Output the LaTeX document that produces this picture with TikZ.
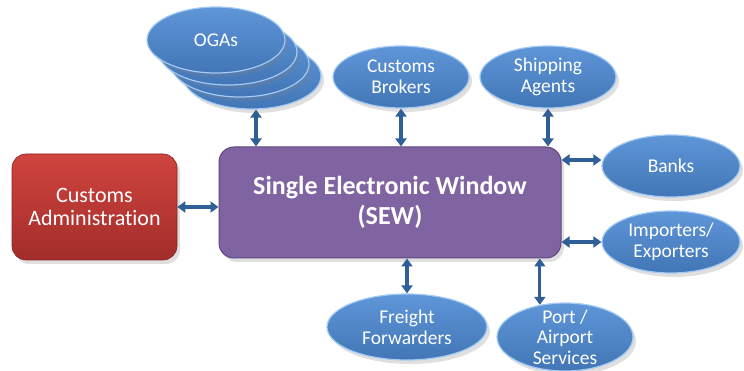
\documentclass[tikz,border=0pt]{standalone}
\usepackage{fontspec}
\setmainfont{Carlito}[Ligatures=NoCommon]
\usetikzlibrary{shapes.geometric,arrows.meta,shadows}
\definecolor{ellTop}{HTML}{5F96D8}
\definecolor{ellBot}{HTML}{4276B6}
\definecolor{ellRim}{HTML}{A3CAF4}
\definecolor{redTop}{HTML}{D0443F}
\definecolor{redBot}{HTML}{A22D2A}
\definecolor{purp}{HTML}{8063A1}
\definecolor{purpEdge}{HTML}{5E4880}
\definecolor{arr}{HTML}{2F5F96}
\tikzset{
  oval/.style={ellipse, minimum width=136pt, minimum height=62pt, inner sep=0pt,
    top color=ellTop, bottom color=ellBot, draw=ellRim, line width=1.2pt,
    text=white, font=\fontsize{19.5}{21}\selectfont, align=center,
    drop shadow={shadow xshift=3pt, shadow yshift=-4pt, opacity=0.25}},
  ovaltext/.style={text=white, font=\fontsize{19.5}{20.5}\selectfont, align=center, inner sep=0pt},
  conn/.style={{Triangle[width=11pt,length=8pt]}-{Triangle[width=11pt,length=8pt]}, line width=3.2pt, draw=arr},
  box/.style={rounded corners=15pt, inner sep=0pt, text=white, align=center,
    drop shadow={shadow xshift=3pt, shadow yshift=-4pt, opacity=0.25}}
}
\begin{document}
\begin{tikzpicture}[x=1pt,y=-1pt]
\useasboundingbox (0,0) rectangle (744,371);
% OGAs stack
\node[oval, minimum width=138pt, minimum height=66pt] (oga3) at (252,76) {};
\node[oval, minimum width=138pt, minimum height=66pt] (oga2) at (240,64) {};
\node[oval, minimum width=138pt, minimum height=66pt] (oga1) at (228,52) {};
\node[oval, minimum width=138pt, minimum height=66pt] (ogas) at (216,40) {OGAs};
% other ovals
\node[oval] (brok) at (401,77) {Customs\\Brokers};
\node[oval] (ship) at (548,77) {Shipping\\Agents};
\node[oval, minimum width=138pt] (banks) at (671,166) {Banks};
\node[oval, minimum width=138pt] (imp) at (671,242) {Importers/\\Exporters};
\node[oval, minimum width=160pt, minimum height=66pt] (frei) at (407,327) {Freight\\Forwarders};
\node[oval, minimum width=136pt, minimum height=68pt,
  label={[ovaltext]center:{Port /\\Airport\\Services}}] (port) at (565,337) {};
% boxes
\node[box, minimum width=342pt, minimum height=111pt, fill=purp, draw=purpEdge, line width=1pt,
  font=\fontsize{26}{30}\selectfont\bfseries] (sew) at (390,202.5) {Single Electronic Window\\(SEW)};
\node[box, rounded corners=14pt, minimum width=165pt, minimum height=106pt, top color=redTop, bottom color=redBot,
  draw=redBot!80!black, line width=0.6pt, font=\fontsize{22}{23}\selectfont] (cust) at (94.5,207) {Customs\\Administration};
% connectors
\draw[conn] (cust.east) -- (cust.east -| sew.west);
\draw[conn] (oga3.south -| 256,0) -- (sew.north -| 256,0);
\draw[conn] (brok.south) -- (brok.south |- sew.north);
\draw[conn] (ship.south) -- (ship.south |- sew.north);
\draw[conn] (banks.west |- 0,160) -- (sew.east |- 0,160);
\draw[conn] (imp.west) -- (imp.west -| sew.east);
\draw[conn] (frei.north) -- (frei.north |- sew.south);
\draw[conn] (port.128) -- (port.128 |- sew.south);
\end{tikzpicture}
\end{document}
